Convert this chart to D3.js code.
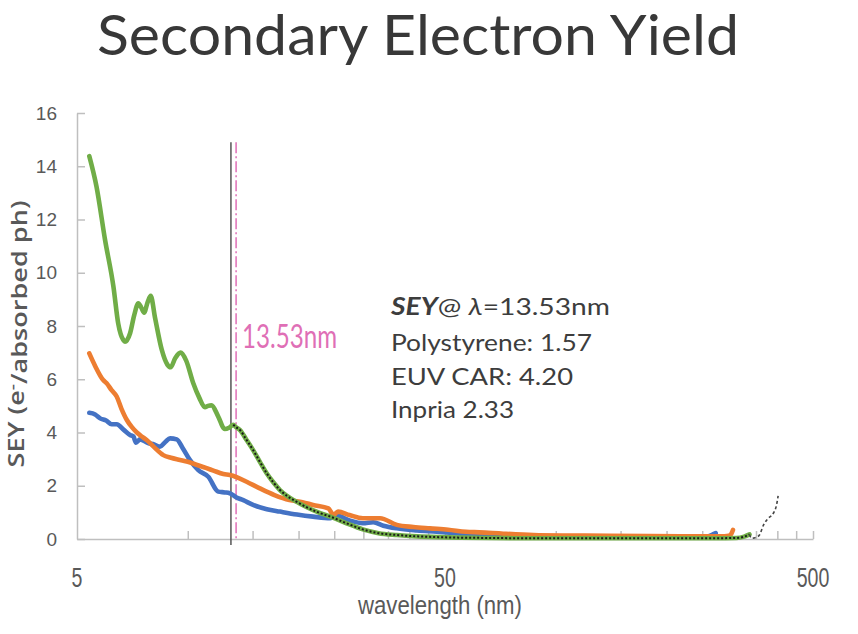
<!DOCTYPE html>
<html>
<head>
<meta charset="utf-8">
<script src="https://cdn.jsdelivr.net/npm/d3@7"></script>
<style>
  html, body { margin: 0; padding: 0; background: #ffffff; }
  svg { display: block; }
</style>
</head>
<body>
<svg id="chart" width="858" height="634"></svg>
<script>
// ---- data: secondary electron yield vs. wavelength ----
const titleText = "Secondary Electron Yield";
const xLabelText = "wavelength (nm)";
const yTicks = [0, 2, 4, 6, 8, 10, 12, 14, 16];
const xLabelTicks = [5, 50, 500];
const xMinorTicks = [10, 15, 20, 25, 30, 35, 40, 45, 50, 100, 150, 200, 250, 300, 350, 400, 450, 500];

// Polystyrene (blue)
const polyWl = [5.40, 5.6, 5.78, 6.0, 6.21, 6.41, 6.7, 6.97, 7.12, 7.23, 7.42, 7.8, 8.1, 8.40, 8.7, 8.95, 9.33, 9.7, 10.13, 10.68, 11.37, 12.1, 12.6, 13.0, 13.53, 14.15, 15.05, 16.4, 17.8, 19.8, 21.9, 24.4, 25.4, 27.5, 29.9, 31.9, 34, 37, 42, 47.5, 55, 62, 75, 90, 110, 140, 180, 220, 250, 262, 268, 272];
const polySey = [4.74, 4.68, 4.53, 4.45, 4.31, 4.31, 4.1, 3.91, 3.85, 3.62, 3.74, 3.6, 3.55, 3.47, 3.65, 3.78, 3.74, 3.4, 2.97, 2.59, 2.34, 1.78, 1.75, 1.72, 1.57, 1.46, 1.28, 1.12, 1.03, 0.92, 0.84, 0.78, 0.88, 0.7, 0.59, 0.63, 0.5, 0.40, 0.32, 0.27, 0.2, 0.15, 0.1, 0.08, 0.06, 0.05, 0.05, 0.05, 0.07, 0.12, 0.18, 0.22];

// Inpria (orange)
const inpriaWl = [5.40, 5.6, 5.89, 6.02, 6.2, 6.41, 6.6, 6.83, 7.05, 7.27, 7.5, 7.73, 8.1, 8.58, 9.0, 9.53, 10.0, 10.6, 11.2, 11.74, 12.5, 13.0, 13.53, 14.45, 15.7, 17.2, 18.9, 20.5, 21.9, 24.1, 24.9, 25.6, 27.5, 29.9, 33.3, 37, 41, 45.5, 51, 57, 62, 72, 87, 110, 140, 180, 230, 280, 295, 300, 303];
const inpriaSey = [6.97, 6.5, 5.97, 5.85, 5.6, 5.35, 4.9, 4.47, 4.2, 4.0, 3.85, 3.72, 3.45, 3.15, 3.05, 2.97, 2.9, 2.78, 2.67, 2.57, 2.44, 2.40, 2.33, 2.15, 1.90, 1.65, 1.46, 1.38, 1.28, 1.15, 0.90, 1.03, 0.9, 0.78, 0.78, 0.53, 0.45, 0.40, 0.35, 0.27, 0.25, 0.2, 0.15, 0.13, 0.12, 0.11, 0.1, 0.1, 0.12, 0.2, 0.34];

// EUV CAR (green)
const carWl = [5.40, 5.65, 5.96, 6.28, 6.47, 6.68, 6.75, 6.97, 7.15, 7.34, 7.47, 7.61, 7.78, 7.93, 8.15, 8.5, 8.8, 8.98, 9.25, 9.56, 9.9, 10.35, 10.75, 11.13, 11.35, 11.6, 12.1, 12.6, 12.95, 13.29, 13.53, 13.87, 14.4, 15.05, 15.7, 16.38, 17.1, 17.8, 18.6, 19.4, 21, 22.9, 24.4, 27.0, 29.9, 33, 37, 42, 48, 55, 65, 80, 100, 130, 170, 220, 270, 310, 325, 336];
const carSey = [14.38, 13.23, 11.23, 9.48, 8.1, 7.47, 7.41, 7.73, 8.4, 8.85, 8.7, 8.5, 8.9, 9.13, 8.3, 7.1, 6.55, 6.45, 6.8, 7.0, 6.7, 5.85, 5.3, 4.95, 5.0, 5.02, 4.6, 4.13, 4.18, 4.29, 4.20, 4.09, 3.75, 3.34, 2.9, 2.47, 2.12, 1.84, 1.62, 1.46, 1.2, 0.97, 0.84, 0.59, 0.36, 0.22, 0.15, 0.10, 0.07, 0.05, 0.04, 0.03, 0.03, 0.03, 0.03, 0.03, 0.03, 0.04, 0.09, 0.17];

// fitted curve: follows EUV CAR from the reference line, then extrapolated tail
const fitStartWl = 13.1;
const fitTailWl = [340.6, 351.5, 357.6, 367, 378, 390, 398, 402];
const fitTailSey = [0.03, 0.07, 0.15, 0.53, 0.78, 0.96, 1.28, 1.62];

// reference lines
const edgeWl = 13.1;
const markerWl = 13.53;
const markerLabel = "13.53nm";
const refLineTop = 14.9;

// annotation lines
const seyAtMarker = [
  { name: "Polystyrene", sep: ": ", value: "1.57" },
  { name: "EUV CAR", sep: ": ", value: "4.20" },
  { name: "Inpria", sep: " ", value: "2.33" }
];

const zip = (xs, ys) => xs.map((x, i) => ({ x, y: ys[i] }));
const polyData = zip(polyWl, polySey);
const inpriaData = zip(inpriaWl, inpriaSey);
const carData = zip(carWl, carSey);
const fitMain = carData.filter(d => d.x >= fitStartWl);
const fitTail = [carData[carData.length - 1]].concat(zip(fitTailWl, fitTailSey));

// ---- layout ----
const svg = d3.select("#chart");
const plotLeft = 77, plotRight = 813, plotTop = 113, plotBottom = 539;

const x = d3.scaleLog().domain([5, 500]).range([plotLeft, plotRight]);
const y = d3.scaleLinear().domain([0, 16]).range([plotBottom, plotTop]);

const axisColor = "#bfbfbf";
const labelColor = "#595959";

// title
svg.append("text")
  .attr("x", 418).attr("y", 55)
  .attr("text-anchor", "middle")
  .attr("font-family", "Lato, 'Open Sans', sans-serif")
  .attr("font-size", 57)
  .attr("fill", "#383838")
  .attr("textLength", 642)
  .attr("lengthAdjust", "spacingAndGlyphs")
  .text(titleText);

// y axis
const yAxis = svg.append("g")
  .attr("transform", `translate(${plotLeft},0)`)
  .call(d3.axisLeft(y).tickValues(yTicks).tickSize(-8).tickSizeOuter(0).tickPadding(20));
yAxis.select(".domain").attr("stroke", axisColor).attr("stroke-width", 1.5);
yAxis.selectAll(".tick line").attr("stroke", axisColor).attr("stroke-width", 1.5);
yAxis.selectAll(".tick text")
  .attr("font-family", "'Liberation Sans', Arial, sans-serif")
  .attr("font-size", 19)
  .attr("fill", labelColor);

// x axis (minor ticks inside the plot)
const xAxis = svg.append("g")
  .attr("transform", `translate(0,${plotBottom})`)
  .call(d3.axisBottom(x).tickValues(xMinorTicks).tickSize(-8).tickSizeOuter(0).tickFormat(""));
xAxis.select(".domain").attr("stroke", axisColor).attr("stroke-width", 1.5);
xAxis.selectAll(".tick line").attr("stroke", axisColor).attr("stroke-width", 1.5);

// x tick labels (condensed)
svg.append("g").selectAll("text")
  .data(xLabelTicks)
  .join("text")
  .attr("transform", d => `translate(${x(d)},587) scale(0.7,1)`)
  .attr("text-anchor", "middle")
  .attr("font-family", "'Liberation Sans', Arial, sans-serif")
  .attr("font-size", 28)
  .attr("fill", labelColor)
  .text(d => d);

// x axis title
svg.append("text")
  .attr("x", 440).attr("y", 614)
  .attr("text-anchor", "middle")
  .attr("font-family", "'Liberation Sans', Arial, sans-serif")
  .attr("font-size", 26)
  .attr("fill", labelColor)
  .attr("textLength", 164)
  .attr("lengthAdjust", "spacingAndGlyphs")
  .text(xLabelText);

// y axis title
const yTitle = svg.append("text")
  .attr("transform", "translate(24,334) rotate(-90)")
  .attr("text-anchor", "middle")
  .attr("font-family", "'Open Sans', sans-serif")
  .attr("font-weight", 600)
  .attr("font-size", 21)
  .attr("fill", labelColor)
  .attr("textLength", 267)
  .attr("lengthAdjust", "spacingAndGlyphs");
yTitle.append("tspan").text("SEY (e");
yTitle.append("tspan").attr("dy", "-0.45em").attr("font-size", 15).text("-");
yTitle.append("tspan").attr("dy", "0.45em").text("/absorbed ph)");

// reference lines
svg.append("line")
  .attr("x1", x(edgeWl)).attr("x2", x(edgeWl))
  .attr("y1", y(refLineTop)).attr("y2", plotBottom + 6)
  .attr("stroke", "#555555").attr("stroke-width", 1.5);
svg.append("line")
  .attr("x1", x(markerWl)).attr("x2", x(markerWl))
  .attr("y1", y(refLineTop)).attr("y2", plotBottom)
  .attr("stroke", "#df6fb6").attr("stroke-width", 1.5)
  .attr("stroke-dasharray", "11,3,2,3");

// series
const line = d3.line().x(d => x(d.x)).y(d => y(d.y)).curve(d3.curveMonotoneX);
const series = [
  { data: polyData, color: "#4472c4" },
  { data: inpriaData, color: "#ed7d31" },
  { data: carData, color: "#70ad47" }
];
svg.append("g").selectAll("path")
  .data(series)
  .join("path")
  .attr("d", d => line(d.data))
  .attr("fill", "none")
  .attr("stroke", d => d.color)
  .attr("stroke-width", 4.6)
  .attr("stroke-linejoin", "round")
  .attr("stroke-linecap", "round");

// fitted curve overlay
svg.append("path")
  .attr("d", line(fitMain))
  .attr("fill", "none")
  .attr("stroke", "#1a1a1a")
  .attr("stroke-width", 2)
  .attr("stroke-dasharray", "2,2");
svg.append("path")
  .attr("d", line(fitTail))
  .attr("fill", "none")
  .attr("stroke", "#444444")
  .attr("stroke-width", 1.6)
  .attr("stroke-dasharray", "3,2.5");

// marker label
svg.append("text")
  .attr("x", 242).attr("y", 348)
  .attr("font-family", "Lato, 'Open Sans', sans-serif")
  .attr("font-size", 32)
  .attr("fill", "#df6fb6")
  .attr("textLength", 95)
  .attr("lengthAdjust", "spacingAndGlyphs")
  .text(markerLabel);

// annotation block
const noteFont = "Lato, 'Open Sans', sans-serif";
const noteColor = "#3d3d3d";
const head = svg.append("text")
  .attr("x", 391).attr("y", 315)
  .attr("font-family", noteFont).attr("font-size", 24).attr("fill", noteColor)
  .attr("textLength", 219).attr("lengthAdjust", "spacingAndGlyphs");
head.append("tspan").attr("font-weight", 700).attr("font-style", "italic").text("SEY");
head.append("tspan").text("@ ");
head.append("tspan").attr("font-style", "italic").text("λ");
head.append("tspan").text("=" + markerWl + "nm");

const noteLengths = [201, 182, 123];
svg.append("g").selectAll("text")
  .data(seyAtMarker)
  .join("text")
  .attr("x", 391)
  .attr("y", (d, i) => 351 + i * 33.5)
  .attr("font-family", noteFont).attr("font-size", 24).attr("fill", noteColor)
  .attr("textLength", (d, i) => noteLengths[i]).attr("lengthAdjust", "spacingAndGlyphs")
  .text(d => d.name + d.sep + d.value);
</script>
</body>
</html>
